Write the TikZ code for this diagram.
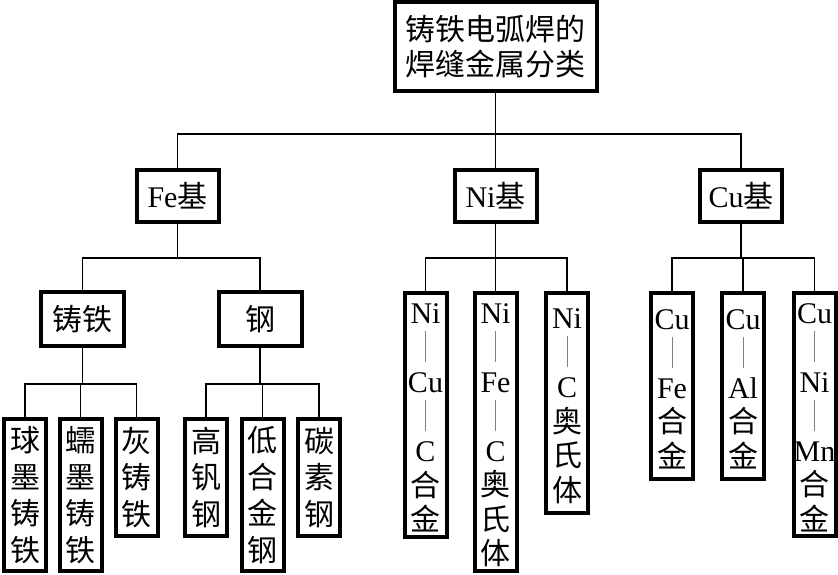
\documentclass[tikz,border=0pt]{standalone}
\usepackage{fontspec}
\setmainfont{Liberation Serif}
\newfontfamily\cjk{Noto Sans CJK SC}
\newcommand\vd{\textcolor{gray}{\rule[-4pt]{0.8pt}{31pt}}}
\newcommand\fs{\rule{0pt}{26pt}}
\begin{document}
\begin{tikzpicture}[x=1pt,y=-1pt,
  bx/.style={draw,line width=4pt,inner sep=0pt,align=center,fill=white},
  cj/.style={font=\cjk\fontsize{30}{35}\selectfont},
  cjl/.style={font=\cjk\fontsize{30}{36.5}\selectfont},
  lt/.style={font=\fontsize{30}{34.5}\selectfont},
  cn/.style={line width=1.4pt}]
\useasboundingbox (0,0) rectangle (838,574);

% root
\node[bx,cj,minimum width=202pt,minimum height=89pt] (root) at (495.5,46.5) {铸铁电弧焊的\\焊缝金属分类};

% level 1
\node[bx,lt,minimum width=82pt,minimum height=52pt] (fe) at (177.5,196) {Fe{\cjk 基}};
\node[bx,lt,minimum width=82pt,minimum height=52pt] (ni) at (495.5,196) {Ni{\cjk 基}};
\node[bx,lt,minimum width=82pt,minimum height=52pt] (cu) at (741,196) {Cu{\cjk 基}};

% level 2 (Fe)
\node[bx,cj,minimum width=83pt,minimum height=54pt] (zt) at (82.5,319) {铸铁};
\node[bx,cj,minimum width=83pt,minimum height=54pt] (gang) at (260,319) {钢};

% Fe leaves
\node[bx,cjl,minimum width=42pt,minimum height=152pt] (qm) at (25,495) {球\\墨\\铸\\铁};
\node[bx,cjl,minimum width=42pt,minimum height=152pt] (rm) at (80.5,495) {蠕\\墨\\铸\\铁};
\node[bx,cjl,minimum width=42pt,minimum height=117pt] (hz) at (136.5,477.5) {灰\\铸\\铁};
\node[bx,cjl,minimum width=42pt,minimum height=117pt] (gf) at (206,477.5) {高\\钒\\钢};
\node[bx,cjl,minimum width=42pt,minimum height=152pt] (dh) at (262.5,495) {低\\合\\金\\钢};
\node[bx,cjl,minimum width=42pt,minimum height=117pt] (ts) at (319,477.5) {碳\\素\\钢};

% Ni leaves
\node[bx,lt,minimum width=42pt,minimum height=244pt] (nicuc) at (425.5,415) {{\fs}Ni\\\vd\\Cu\\\vd\\C\\{\cjk 合}\\{\cjk 金}};
\node[bx,lt,minimum width=42pt,minimum height=278pt] (nifec) at (495.5,432) {{\fs}Ni\\\vd\\Fe\\\vd\\C\\{\cjk 奥}\\{\cjk 氏}\\{\cjk 体}};
\node[bx,lt,minimum width=42pt,minimum height=220pt] (nic) at (567,403) {{\fs}Ni\\\vd\\C\\{\cjk 奥}\\{\cjk 氏}\\{\cjk 体}};

% Cu leaves
\node[bx,lt,minimum width=42pt,minimum height=186pt] (cufe) at (672,386) {{\fs}Cu\\\vd\\Fe\\{\cjk 合}\\{\cjk 金}};
\node[bx,lt,minimum width=42pt,minimum height=186pt] (cual) at (743,386) {{\fs}Cu\\\vd\\Al\\{\cjk 合}\\{\cjk 金}};
\node[bx,lt,minimum width=42pt,minimum height=243pt] (cunimn) at (814.5,414.5) {{\fs}Cu\\\vd\\Ni\\\vd\\Mn\\{\cjk 合}\\{\cjk 金}};

% buses
\coordinate (b1) at (0,134);
\coordinate (b2) at (0,258);
\coordinate (b3) at (0,384);

% connectors
\draw[cn] (root.south) -- (root.south |- b1);
\draw[cn] (fe.north) |- (cu.north |- b1) -- (cu.north);
\draw[cn] (ni.north) -- (ni.north |- b1);

\draw[cn] (fe.south) -- (fe.south |- b2);
\draw[cn] (zt.north) |- (gang.north |- b2) -- (gang.north);

\draw[cn] (zt.south) -- (zt.south |- b3);
\draw[cn] (qm.north) |- (hz.north |- b3) -- (hz.north);
\draw[cn] (rm.north) -- (rm.north |- b3);
\draw[cn] (gang.south) -- (gang.south |- b3);
\draw[cn] (gf.north) |- (ts.north |- b3) -- (ts.north);
\draw[cn] (dh.north) -- (dh.north |- b3);

\draw[cn] (ni.south) -- (ni.south |- b2);
\draw[cn] (nicuc.north) |- (nic.north |- b2) -- (nic.north);
\draw[cn] (nifec.north) -- (nifec.north |- b2);

\draw[cn] (cu.south) -- (cu.south |- b2);
\draw[cn] (cufe.north) |- (cunimn.north |- b2) -- (cunimn.north);
\draw[cn] (cual.north) -- (cual.north |- b2);
\end{tikzpicture}
\end{document}
